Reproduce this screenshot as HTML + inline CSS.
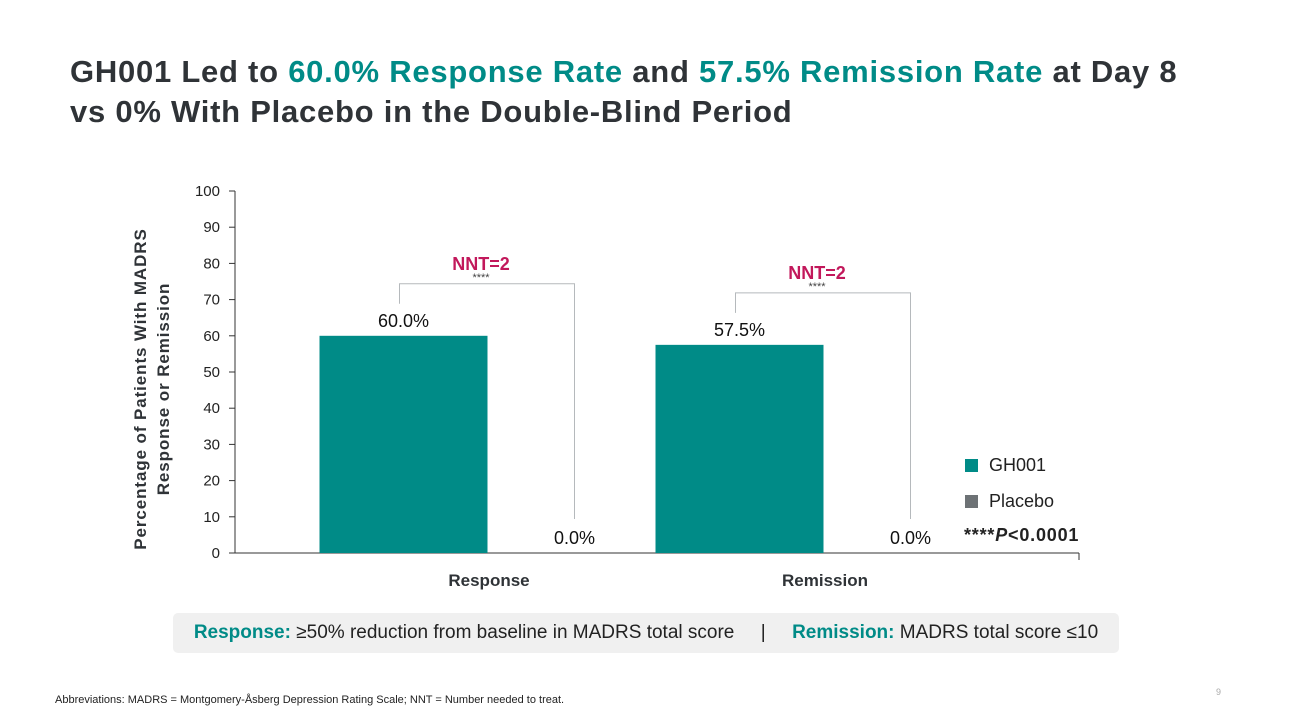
<!DOCTYPE html>
<html><head><meta charset="utf-8"><style>
body{margin:0;width:1293px;height:728px;background:#fff;font-family:"Liberation Sans",sans-serif;position:relative;overflow:hidden}
.t{position:absolute;left:70px;top:52px;font-size:31px;font-weight:bold;color:#2f3337;line-height:40px;letter-spacing:0.75px}
.teal{color:#008b87}
.box{position:absolute;left:173px;top:613px;width:946px;height:40px;background:#f0f0f0;border-radius:5px;font-size:19px;line-height:40px;text-align:center;color:#222;letter-spacing:0px}
.ab{position:absolute;left:55px;top:694px;font-size:11px;color:#222}
.pg{position:absolute;left:1216px;top:687px;font-size:9px;color:#aaa}
</style></head><body>
<div class="t">GH001 Led to <span class="teal">60.0% Response Rate</span> and <span class="teal">57.5% Remission Rate</span> at Day 8<br>vs 0% With Placebo in the Double-Blind Period</div>
<svg id="chart" width="1293" height="728" style="position:absolute;left:0;top:0"></svg>
<div class="box"><b class="teal">Response:</b> ≥50% reduction from baseline in MADRS total score &nbsp;&nbsp;&nbsp;&nbsp;| &nbsp;&nbsp;&nbsp;&nbsp;<b class="teal">Remission:</b> MADRS total score ≤10</div>
<div class="ab">Abbreviations: MADRS = Montgomery-Åsberg Depression Rating Scale; NNT = Number needed to treat.</div>
<div class="pg">9</div>
<script>
const categories=["Response","Remission"];
const gh001=[60.0,57.5];
const placebo=[0.0,0.0];
const nnt=["NNT=2","NNT=2"];
const yTicks=[0,10,20,30,40,50,60,70,80,90,100];
const svg=document.getElementById('chart');
const NS='http://www.w3.org/2000/svg';
const x0=235,x1=1079,yBase=553,yTop=191;
const y=v=>yBase-(v/100)*(yBase-yTop);
const gc=i=>489+i*336;
function mk(t,a,txt){const e=document.createElementNS(NS,t);for(const k in a)e.setAttribute(k,a[k]);if(txt!=null)e.textContent=txt;svg.appendChild(e);return e;}
const F='"Liberation Sans",sans-serif';
let e=mk('line',{x1:x0,y1:yTop,x2:x0,y2:yBase,stroke:'#333','stroke-width':1});

e=mk('line',{x1:x0-6,y1:yBase,x2:x1,y2:yBase,stroke:'#333','stroke-width':1});

mk('line',{x1:x1,y1:yBase,x2:x1,y2:yBase+7,stroke:'#333'});
yTicks.forEach(v=>{
  mk('line',{x1:x0-6,y1:y(v),x2:x0,y2:y(v),stroke:'#333'});
  e=mk('text',{x:x0-15,y:y(v)+5,'text-anchor':'end','font-size':15,'font-family':F,fill:'#222'},v);
  
});
e=mk('text',{transform:'translate(150,389) rotate(-90)','text-anchor':'middle','font-size':17,'font-weight':'bold','font-family':F,fill:'#2f3337','letter-spacing':'0.9'});

const t1=document.createElementNS(NS,'tspan');t1.setAttribute('x',0);t1.setAttribute('dy',-4);t1.textContent='Percentage of Patients With MADRS';e.appendChild(t1);
const t2=document.createElementNS(NS,'tspan');t2.setAttribute('x',0);t2.setAttribute('dy',23);t2.textContent='Response or Remission';e.appendChild(t2);
categories.forEach((c,i)=>{
  const cx=gc(i),gx=cx-85.5,px=cx+85.5,w=168;
  e=mk('rect',{x:gx-w/2,y:y(gh001[i]),width:w,height:yBase-y(gh001[i]),fill:'#008b87'});
  
  e=mk('rect',{x:px-w/2,y:y(placebo[i]),width:w,height:yBase-y(placebo[i]),fill:'#6d7275'});
  
  e=mk('text',{x:gx,y:y(gh001[i])-9,'text-anchor':'middle','font-size':18,'font-family':F,fill:'#111'},gh001[i].toFixed(1)+'%');
  
  e=mk('text',{x:px,y:y(placebo[i])-9,'text-anchor':'middle','font-size':18,'font-family':F,fill:'#111'},placebo[i].toFixed(1)+'%');
  
  const bt=y(gh001[i])-52,bl=y(gh001[i])-32,br=y(placebo[i])-34;
  e=mk('polyline',{points:`${gx-4},${bl} ${gx-4},${bt} ${px},${bt} ${px},${br}`,fill:'none',stroke:'#b5b9bc','stroke-width':1});
  
  e=mk('text',{x:(gx+px)/2-8,y:bt-3,'text-anchor':'middle','font-size':11,'font-family':F,fill:'#444'},'****');
  
  e=mk('text',{x:(gx+px)/2-8,y:bt-14,'text-anchor':'middle','font-size':18,'font-weight':'bold','font-family':F,fill:'#c2185b'},nnt[i]);
  
  e=mk('text',{x:cx,y:586,'text-anchor':'middle','font-size':17,'font-weight':'bold','font-family':F,fill:'#2f3337'},c);
  
});
e=mk('rect',{x:965,y:459,width:13,height:13,fill:'#008b87'});

e=mk('text',{x:989,y:471,'font-size':18,'font-family':F,fill:'#222'},'GH001');

e=mk('rect',{x:965,y:495,width:13,height:13,fill:'#6d7275'});

e=mk('text',{x:989,y:507,'font-size':18,'font-family':F,fill:'#222'},'Placebo');

e=mk('text',{x:964,y:541,'font-size':18,'font-weight':'bold','font-family':F,fill:'#222','letter-spacing':'0.8'});
e.innerHTML='****<tspan font-style="italic">P</tspan>&lt;0.0001';

</script>
</body></html>
